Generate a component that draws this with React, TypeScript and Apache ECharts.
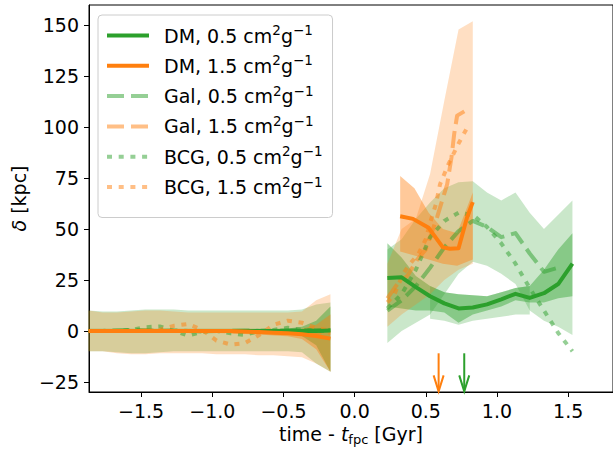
import React, { useEffect, useRef } from "react";
import * as echarts from "echarts";

// ---------- data ----------
const GREEN = "#2ca02c";
const ORANGE = "#ff7f0e";
const GREEN_L = "rgba(44,160,44,0.5)";
const ORANGE_L = "rgba(255,127,14,0.5)";

const leftT = [-1.87, -1.77, -1.67, -1.57, -1.47, -1.37, -1.27, -1.17, -1.07, -0.97, -0.87, -0.77, -0.67, -0.57, -0.47, -0.37, -0.27, -0.17];
const dm05Left = [0, 0, 0, 0, 0, 0, 0, 0, 0, 0, 0, 0, 0, 0, 0, 0, 0, 0.2];
const dm15Left = [0, 0, 0, 0, 0, 0, 0, 0, 0, 0, 0, -0.3, -0.6, -0.9, -1.2, -1.6, -2.5, -3.8];
const gal05Left = [0, 0, 0.3, 0.5, 0.3, 0, 0.2, 0, -0.3, 0, 0, 0.2, 0, 0, 0.3, 0.5, 0.5, 0.5];
const gal15Left = [0, 0, 0, 0, 0.2, 0, 0, 0, 0, 0, -0.3, -0.3, 0, 0, 0, 0, -0.5, -1];
const bcg05Left = [0, 0, 0, 0.5, 1.8, 2.2, 0, -2.3, -0.5, 0, -1.2, -2, 0, 0.5, 1.5, 0.5, 0, 0];
const bcg15Left = [0, 0, 0, 0, 0, 0.5, 2.5, 3.4, 0.5, -4.8, -6.7, -6, -2, 3, 5, 4, 1.5, 0];

const lightGLeftHi = [10, 9.5, 9.5, 10, 10.5, 10.5, 10.5, 10, 10, 10, 10, 10, 10, 10, 10, 10.5, 13, 14];
const lightGLeftLo = [-10, -10, -10.5, -11, -11, -10.5, -10, -10, -10, -10, -10, -10, -10, -10, -10, -10.5, -16, -20];
const lightOLeftHi = [10, 9, 9, 9.5, 10, 10, 9.5, 9, 9, 9, 9, 9, 9, 9, 9, 9.5, 15, 18];
const lightOLeftLo = [-10, -10, -11, -11.5, -11.5, -11, -11, -11, -11, -11.5, -11.5, -11.5, -12, -12, -12.5, -13, -16, -20];
const darkGLeftHi = [1, 1, 1, 1, 1, 1, 1, 1, 1, 1, 1, 1, 1, 1, 1.2, 2, 5, 12];
const darkGLeftLo = [-1, -1, -1, -1, -1, -1, -1, -1, -1, -1, -1, -1, -1, -1, -1.2, -2.5, -7, -20];
const darkOLeftHi = [0.8, 0.8, 0.8, 0.8, 0.8, 0.8, 0.8, 0.8, 0.8, 0.8, 0.6, 0.4, 0.2, 0, -0.2, 1, 3, 8];
const darkOLeftLo = [-0.8, -0.8, -0.8, -0.8, -0.8, -0.8, -0.8, -0.8, -0.8, -0.8, -1.2, -1.5, -1.8, -2.2, -2.6, -4, -9, -20];

const greenT = [0.23, 0.33, 0.43, 0.53, 0.63, 0.73, 0.83, 0.93, 1.03, 1.13, 1.23, 1.33, 1.43, 1.53];
const dm05Right = [26, 26.3, 21.5, 17, 13.5, 11, 11.5, 13, 15.5, 18.2, 16.2, 18.5, 23, 33];
const galGreenT = [0.23, 0.33, 0.43, 0.53, 0.63, 0.73, 0.83, 0.93, 1.03, 1.13, 1.23, 1.33, 1.43];
const gal05Right = [10, 15, 22, 31, 41, 49, 54, 51, 46, 48, 38, 29, 31];
const bcg05Right = [11, 18, 30, 46, 54, 58, 57, 51, 43, 33, 21, 10, -1, -10];

const dmOrangeT = [0.32, 0.41, 0.52, 0.62, 0.67, 0.73, 0.79, 0.83];
const dm15Right = [56.3, 55, 50.6, 41, 40.3, 40.6, 55.8, 63.2];
const galOrangeT = [0.23, 0.3, 0.37, 0.44, 0.5, 0.58, 0.65, 0.68, 0.7, 0.72, 0.8];
const gal15Right = [16, 23, 27, 35, 40, 56, 72, 85, 97, 105.7, 109];
const bcgOrangeT = [0.23, 0.28, 0.34, 0.39, 0.45, 0.5, 0.53, 0.57, 0.6, 0.66, 0.73, 0.8];
const bcg15Right = [14, 18, 28, 33, 38, 45, 53, 62, 72, 82, 92, 101];

const darkGRightHi = [43, 36, 27, 22, 19, 18, 17.5, 17, 19, 21, 22, 30, 40, 48];
const darkGRightLo = [12, 11, 10, 10, 9, 4, 8, 10, 12, 15, 14, 14, 16, 17];
const lightGRightHi = [40, 45, 55, 63, 70, 73, 73.5, 68, 64, 68, 58, 50, 57, 64];
const lightGRightLo = [-6, 0, 4, 8, 18, 28, 34, 32, 28, 23, 10, 5, 2, -2];
const lowGT = [0.53, 0.63, 0.73, 0.83, 0.93, 1.03, 1.13, 1.23];
const lowGHi = [22, 19, 18, 17.5, 17, 19, 21, 22];
const lowGLo = [6, 5, 3, 5, 6, 7, 8, 8];

const darkOT = [0.32, 0.42, 0.52, 0.62, 0.72, 0.83];
const darkORightHi = [76, 70, 58, 50, 48, 68];
const darkORightLo = [39, 37, 35, 33, 32, 35];
const lightOT = [0.23, 0.33, 0.43, 0.53, 0.63, 0.73, 0.83];
const lightORightHi = [33, 50, 55, 77, 113, 148, 152];
const lightORightLo = [2, 8, 13, 18, 25, 30, 33];

const arrowOrangeX = [0.59];
const arrowGreenX = [0.77];
const arrowTop = -11;
const arrowTip = -29.7;

const xTicks = [-1.5, -1.0, -0.5, 0.0, 0.5, 1.0, 1.5];
const yTicks = [-25, 0, 25, 50, 75, 100, 125, 150];

const legendNames = ["DM, 0.5", "DM, 1.5", "Gal, 0.5", "Gal, 1.5", "BCG, 0.5", "BCG, 1.5"];

// ---------- helpers ----------
const FONT = "DejaVu Sans";
const DASH = [17, 7];
const DOT = [5, 6.7];

function pairs(ts: number[], ys: number[]) {
  return ts.map((t, i) => [t, ys[i]]);
}

function lineSeries(name: string, lt: number[], ly: number[], rt: number[], ry: number[], color: string, type: any, z: number) {
  const data: any[] = pairs(lt, ly).concat([[0.03, "-"]] as any).concat(pairs(rt, ry));
  return {
    type: "line",
    name,
    data,
    symbol: "none",
    showSymbol: false,
    connectNulls: false,
    z,
    itemStyle: { color },
    lineStyle: { color, width: 4, type, cap: "butt", join: "round" },
  };
}

function bandSeries(id: string, ts: number[], lo: number[], hi: number[], color: string, opacity: number) {
  const data = ts.map((t, i) => [t, lo[i], hi[i]]);
  return {
    type: "custom",
    name: id,
    silent: true,
    z: 1,
    data,
    encode: { x: 0, y: [1, 2] },
    renderItem: (params: any, api: any) => {
      if (params.dataIndex !== 0) return null;
      const up = data.map((d) => api.coord([d[0], d[2]]));
      const dn = data.map((d) => api.coord([d[0], d[1]])).reverse();
      return {
        type: "polygon",
        shape: { points: up.concat(dn) },
        style: { fill: color, opacity },
      };
    },
  };
}

function arrowSeries(id: string, xs: number[], color: string) {
  return {
    type: "custom",
    name: id,
    silent: true,
    z: 3,
    data: xs.map((x) => [x, arrowTop, arrowTip]),
    encode: { x: 0, y: [1, 2] },
    renderItem: (params: any, api: any) => {
      const x = api.value(0);
      const p0 = api.coord([x, api.value(1)]);
      const p1 = api.coord([x, api.value(2)]);
      return {
        type: "group",
        children: [
          { type: "line", shape: { x1: p0[0], y1: p0[1], x2: p1[0], y2: p1[1] - 1 }, style: { stroke: color, lineWidth: 2 } },
          {
            type: "polyline",
            shape: { points: [[p1[0] - 5, p1[1] - 16], [p1[0], p1[1]], [p1[0] + 5, p1[1] - 16]] },
            style: { stroke: color, lineWidth: 2, fill: "none" },
          },
        ],
      };
    },
  };
}

function fmtX(v: number) {
  return (v < 0 ? "\u2212" : "") + Math.abs(v).toFixed(1);
}
function fmtY(v: number) {
  return (v < 0 ? "\u2212" : "") + Math.abs(v).toString();
}

export default function App() {
  const ref = useRef<HTMLDivElement>(null);
  useEffect(() => {
    document.body.style.margin = "0";
    if (!ref.current) return;
    const chart = echarts.init(ref.current, undefined, { renderer: "svg" });
    const LA = 0.25;
    const DA = 0.42;
    const option: any = {
      animation: false,
      backgroundColor: "#ffffff",
      textStyle: { fontFamily: FONT },
      grid: { left: 89, top: 5, right: 0, bottom: 61, show: true, borderColor: "#000", borderWidth: 1, backgroundColor: "transparent" },
      xAxis: {
        type: "value",
        min: -1.866,
        max: 1.815,
        name: "time - {i|t}{sub|fpc} [Gyr]",
        nameLocation: "middle",
        nameGap: 27,
        nameTextStyle: {
          fontSize: 19,
          fontFamily: FONT,
          color: "#000",
          rich: {
            i: { fontSize: 19, fontStyle: "italic", fontFamily: FONT, color: "#000" },
            sub: { fontSize: 13, fontFamily: FONT, color: "#000", padding: [11, 0, 0, 0] },
          },
        },
        axisLine: { show: true, onZero: false, lineStyle: { color: "#000", width: 1 } },
        axisTick: { show: true, length: 5, inside: false, customValues: xTicks, lineStyle: { color: "#000", width: 1 } },
        axisLabel: { customValues: xTicks, formatter: fmtX, fontSize: 19, fontFamily: FONT, color: "#000", margin: 9 },
        splitLine: { show: false },
      },
      yAxis: {
        type: "value",
        min: -30,
        max: 160,
        name: "{i|\u03b4} [kpc]",
        nameLocation: "middle",
        nameGap: 54,
        nameTextStyle: {
          fontSize: 19,
          fontFamily: FONT,
          color: "#000",
          rich: { i: { fontSize: 19, fontStyle: "italic", fontFamily: FONT, color: "#000" } },
        },
        axisLine: { show: true, onZero: false, lineStyle: { color: "#000", width: 1 } },
        axisTick: { show: true, length: 5, inside: false, customValues: yTicks, lineStyle: { color: "#000", width: 1 } },
        axisLabel: { customValues: yTicks, formatter: fmtY, fontSize: 19, fontFamily: FONT, color: "#000", margin: 10 },
        splitLine: { show: false },
      },
      legend: {
        data: legendNames,
        orient: "vertical",
        left: 98,
        top: 15,
        itemWidth: 42,
        itemHeight: 12,
        itemGap: 8.3,
        padding: [8, 10, 21, 7],
        backgroundColor: "rgba(255,255,255,0.8)",
        borderColor: "#cccccc",
        borderWidth: 1,
        borderRadius: 4,
        itemStyle: { opacity: 0 },
        lineStyle: { width: 4, cap: "butt" },
        selectedMode: false,
        textStyle: {
          fontSize: 19,
          fontFamily: FONT,
          color: "#000",
          padding: [0, 0, 0, 10],
          rich: { s: { fontSize: 13.5, fontFamily: FONT, color: "#000", padding: [0, 0, 11, 0] } },
        },
        formatter: (name: string) => name + " cm{s|2}g{s|\u22121}",
      },
      series: [
        // bands
        bandSeries("b-lg-l", leftT, lightGLeftLo, lightGLeftHi, GREEN, LA),
        bandSeries("b-lo-l", leftT, lightOLeftLo, lightOLeftHi, ORANGE, LA),
        bandSeries("b-dg-l", leftT, darkGLeftLo, darkGLeftHi, GREEN, DA),
        bandSeries("b-do-l", leftT, darkOLeftLo, darkOLeftHi, ORANGE, DA),
        bandSeries("b-lg-r", greenT, lightGRightLo, lightGRightHi, GREEN, LA),
        bandSeries("b-lg2-r", lowGT, lowGLo, lowGHi, GREEN, LA),
        bandSeries("b-dg-r", greenT, darkGRightLo, darkGRightHi, GREEN, DA),
        bandSeries("b-lo-r", lightOT, lightORightLo, lightORightHi, ORANGE, LA),
        bandSeries("b-do-r", darkOT, darkORightLo, darkORightHi, ORANGE, DA),
        // lines
        lineSeries("Gal, 0.5", leftT, gal05Left, galGreenT, gal05Right, GREEN_L, DASH, 2),
        lineSeries("Gal, 1.5", leftT, gal15Left, galOrangeT, gal15Right, ORANGE_L, DASH, 2),
        lineSeries("BCG, 0.5", leftT, bcg05Left, greenT, bcg05Right, GREEN_L, DOT, 2),
        lineSeries("BCG, 1.5", leftT, bcg15Left, bcgOrangeT, bcg15Right, ORANGE_L, DOT, 2),
        lineSeries("DM, 0.5", leftT, dm05Left, greenT, dm05Right, GREEN, "solid", 3),
        lineSeries("DM, 1.5", leftT, dm15Left, dmOrangeT, dm15Right, ORANGE, "solid", 3),
        // arrows
        arrowSeries("arrow-o", arrowOrangeX, ORANGE),
        arrowSeries("arrow-g", arrowGreenX, GREEN),
      ],
    };
    chart.setOption(option);
    return () => chart.dispose();
  }, []);
  return <div ref={ref} style={{ width: 613, height: 453 }} />;
}
